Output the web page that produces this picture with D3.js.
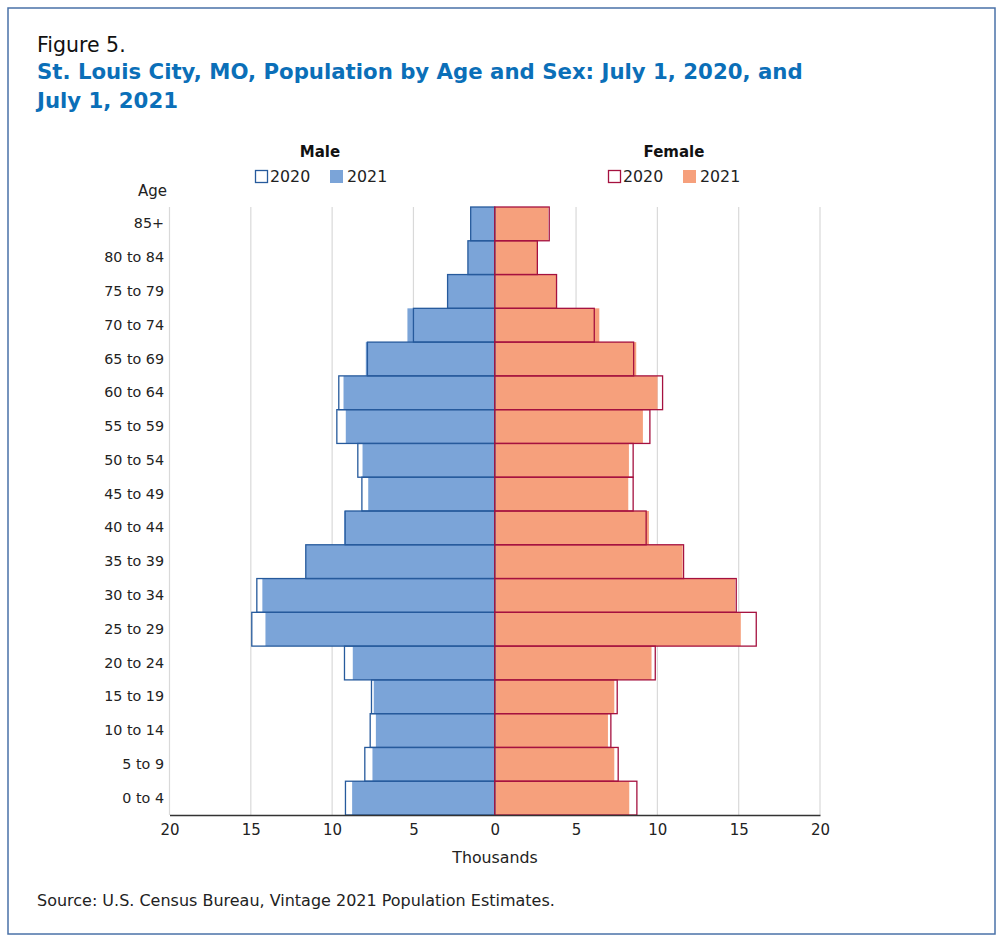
<!DOCTYPE html>
<html><head><meta charset="utf-8">
<script src="https://cdn.jsdelivr.net/npm/d3@7"></script>
<style>
html,body{margin:0;padding:0;background:#fff;}
svg{display:block;font-family:"DejaVu Sans",sans-serif;}
</style></head>
<body>
<svg id="chart" width="1000" height="943"></svg>
<script>
const ageGroups = ["85+","80 to 84","75 to 79","70 to 74","65 to 69","60 to 64","55 to 59","50 to 54","45 to 49","40 to 44","35 to 39","30 to 34","25 to 29","20 to 24","15 to 19","10 to 14","5 to 9","0 to 4"];
const male2020   = [1.48,1.65,2.9,5.0,7.83,9.59,9.71,8.42,8.17,9.2,11.62,14.63,14.94,9.24,7.58,7.66,7.99,9.18];
const male2021   = [1.46,1.65,2.9,5.37,7.93,9.3,9.16,8.13,7.78,9.26,11.62,14.29,14.1,8.73,7.44,7.31,7.52,8.77];
const female2020 = [3.35,2.62,3.8,6.12,8.54,10.32,9.54,8.51,8.51,9.31,11.61,14.85,16.08,9.87,7.53,7.14,7.59,8.74];
const female2021 = [3.29,2.62,3.8,6.43,8.7,10.01,9.11,8.25,8.21,9.48,11.55,14.79,15.13,9.64,7.35,6.96,7.35,8.27];
const xTicks = [-20,-15,-10,-5,0,5,10,15,20];

const C = {maleFill:"#7ba4d8", maleStroke:"#265a9c", femFill:"#f6a07c", femStroke:"#a5113f", grid:"#d9d9d9", text:"#222", title:"#0b6fb8", border:"#4a72a8"};
const FONT = "'DejaVu Sans',sans-serif";

const svg = d3.select("#chart");
svg.append("rect").attr("x",8).attr("y",8).attr("width",987).attr("height",926)
  .attr("fill","none").attr("stroke",C.border).attr("stroke-width",1.5);

function fitText(sel, target){
  const w = sel.node().getComputedTextLength();
  const fs = parseFloat(sel.attr("font-size"));
  sel.attr("font-size", (fs*target/w).toFixed(2));
}

svg.append("text").attr("x",37).attr("y",52).attr("font-size",20.5).attr("fill","#111").text("Figure 5.");
const t1 = svg.append("text").attr("x",37).attr("y",79).attr("font-size",20).attr("font-weight","bold").attr("fill",C.title)
  .text("St. Louis City, MO, Population by Age and Sex: July 1, 2020, and");
fitText(t1, 766);
svg.append("text").attr("x",37).attr("y",108).attr("font-size",t1.attr("font-size")).attr("font-weight","bold").attr("fill",C.title)
  .text("July 1, 2021");

const x = d3.scaleLinear().domain([-20,20]).range([169.5,820]);
const y = d3.scaleBand().domain(ageGroups).range([207,815]).padding(0);

const g = svg.append("g");
g.selectAll("line.grid").data(xTicks).join("line").attr("class","grid")
  .attr("x1",d=>x(d)).attr("x2",d=>x(d)).attr("y1",207).attr("y2",815)
  .attr("stroke",C.grid).attr("stroke-width",1.2);

const rows = ageGroups.map((a,i)=>({age:a,m20:male2020[i],m21:male2021[i],f20:female2020[i],f21:female2021[i]}));

g.selectAll("rect.m21").data(rows).join("rect").attr("class","m21")
  .attr("x",d=>x(-d.m21)).attr("width",d=>x(0)-x(-d.m21))
  .attr("y",d=>y(d.age)).attr("height",y.bandwidth()).attr("fill",C.maleFill);
g.selectAll("rect.f21").data(rows).join("rect").attr("class","f21")
  .attr("x",x(0)).attr("width",d=>x(d.f21)-x(0))
  .attr("y",d=>y(d.age)).attr("height",y.bandwidth()).attr("fill",C.femFill);
g.selectAll("rect.m20").data(rows).join("rect").attr("class","m20")
  .attr("x",d=>x(-d.m20)).attr("width",d=>x(0)-x(-d.m20))
  .attr("y",d=>y(d.age)).attr("height",y.bandwidth()).attr("fill","none")
  .attr("stroke",C.maleStroke).attr("stroke-width",1.3);
g.selectAll("rect.f20").data(rows).join("rect").attr("class","f20")
  .attr("x",x(0)).attr("width",d=>x(d.f20)-x(0))
  .attr("y",d=>y(d.age)).attr("height",y.bandwidth()).attr("fill","none")
  .attr("stroke",C.femStroke).attr("stroke-width",1.3);

const xAxis = d3.axisBottom(x).tickValues(xTicks).tickSize(0).tickPadding(9).tickFormat(d=>Math.abs(d));
const ax = svg.append("g").attr("transform","translate(0,815)").call(xAxis);
ax.select(".domain").attr("stroke","#333").attr("stroke-width",1.3);
ax.selectAll("text").attr("font-size",15).attr("fill",C.text).attr("font-family",FONT);

const yAxis = d3.axisLeft(y).tickSize(0).tickPadding(0);
const ay = svg.append("g").attr("transform","translate(164,0)").call(yAxis);
ay.select(".domain").remove();
ay.selectAll("text").attr("font-size",14.3).attr("fill",C.text).attr("font-family",FONT);

svg.append("text").attr("x",495).attr("y",863).attr("text-anchor","middle").attr("font-size",15.8).attr("fill",C.text).text("Thousands");
svg.append("text").attr("x",167).attr("y",196).attr("text-anchor","end").attr("font-size",15).attr("fill",C.text).text("Age");

function legend(cx, title, fill, stroke, sx){
  svg.append("text").attr("x",cx).attr("y",157).attr("text-anchor","middle").attr("font-size",15)
    .attr("font-weight","bold").attr("fill","#111").text(title);
  svg.append("rect").attr("x",sx+0.5).attr("y",170.5).attr("width",12).attr("height",12)
    .attr("fill","#fff").attr("stroke",stroke).attr("stroke-width",1.3);
  svg.append("text").attr("x",sx+15).attr("y",182).attr("font-size",15.8).attr("fill",C.text).text("2020");
  svg.append("rect").attr("x",sx+75).attr("y",170).attr("width",13).attr("height",13).attr("fill",fill);
  svg.append("text").attr("x",sx+92).attr("y",182).attr("font-size",15.8).attr("fill",C.text).text("2021");
}
legend(320,"Male",C.maleFill,C.maleStroke,255);
legend(674,"Female",C.femFill,C.femStroke,608);

const src = svg.append("text").attr("x",37).attr("y",906).attr("font-size",15).attr("fill",C.text)
  .text("Source: U.S. Census Bureau, Vintage 2021 Population Estimates.");
fitText(src, 518);
</script>
</body></html>
